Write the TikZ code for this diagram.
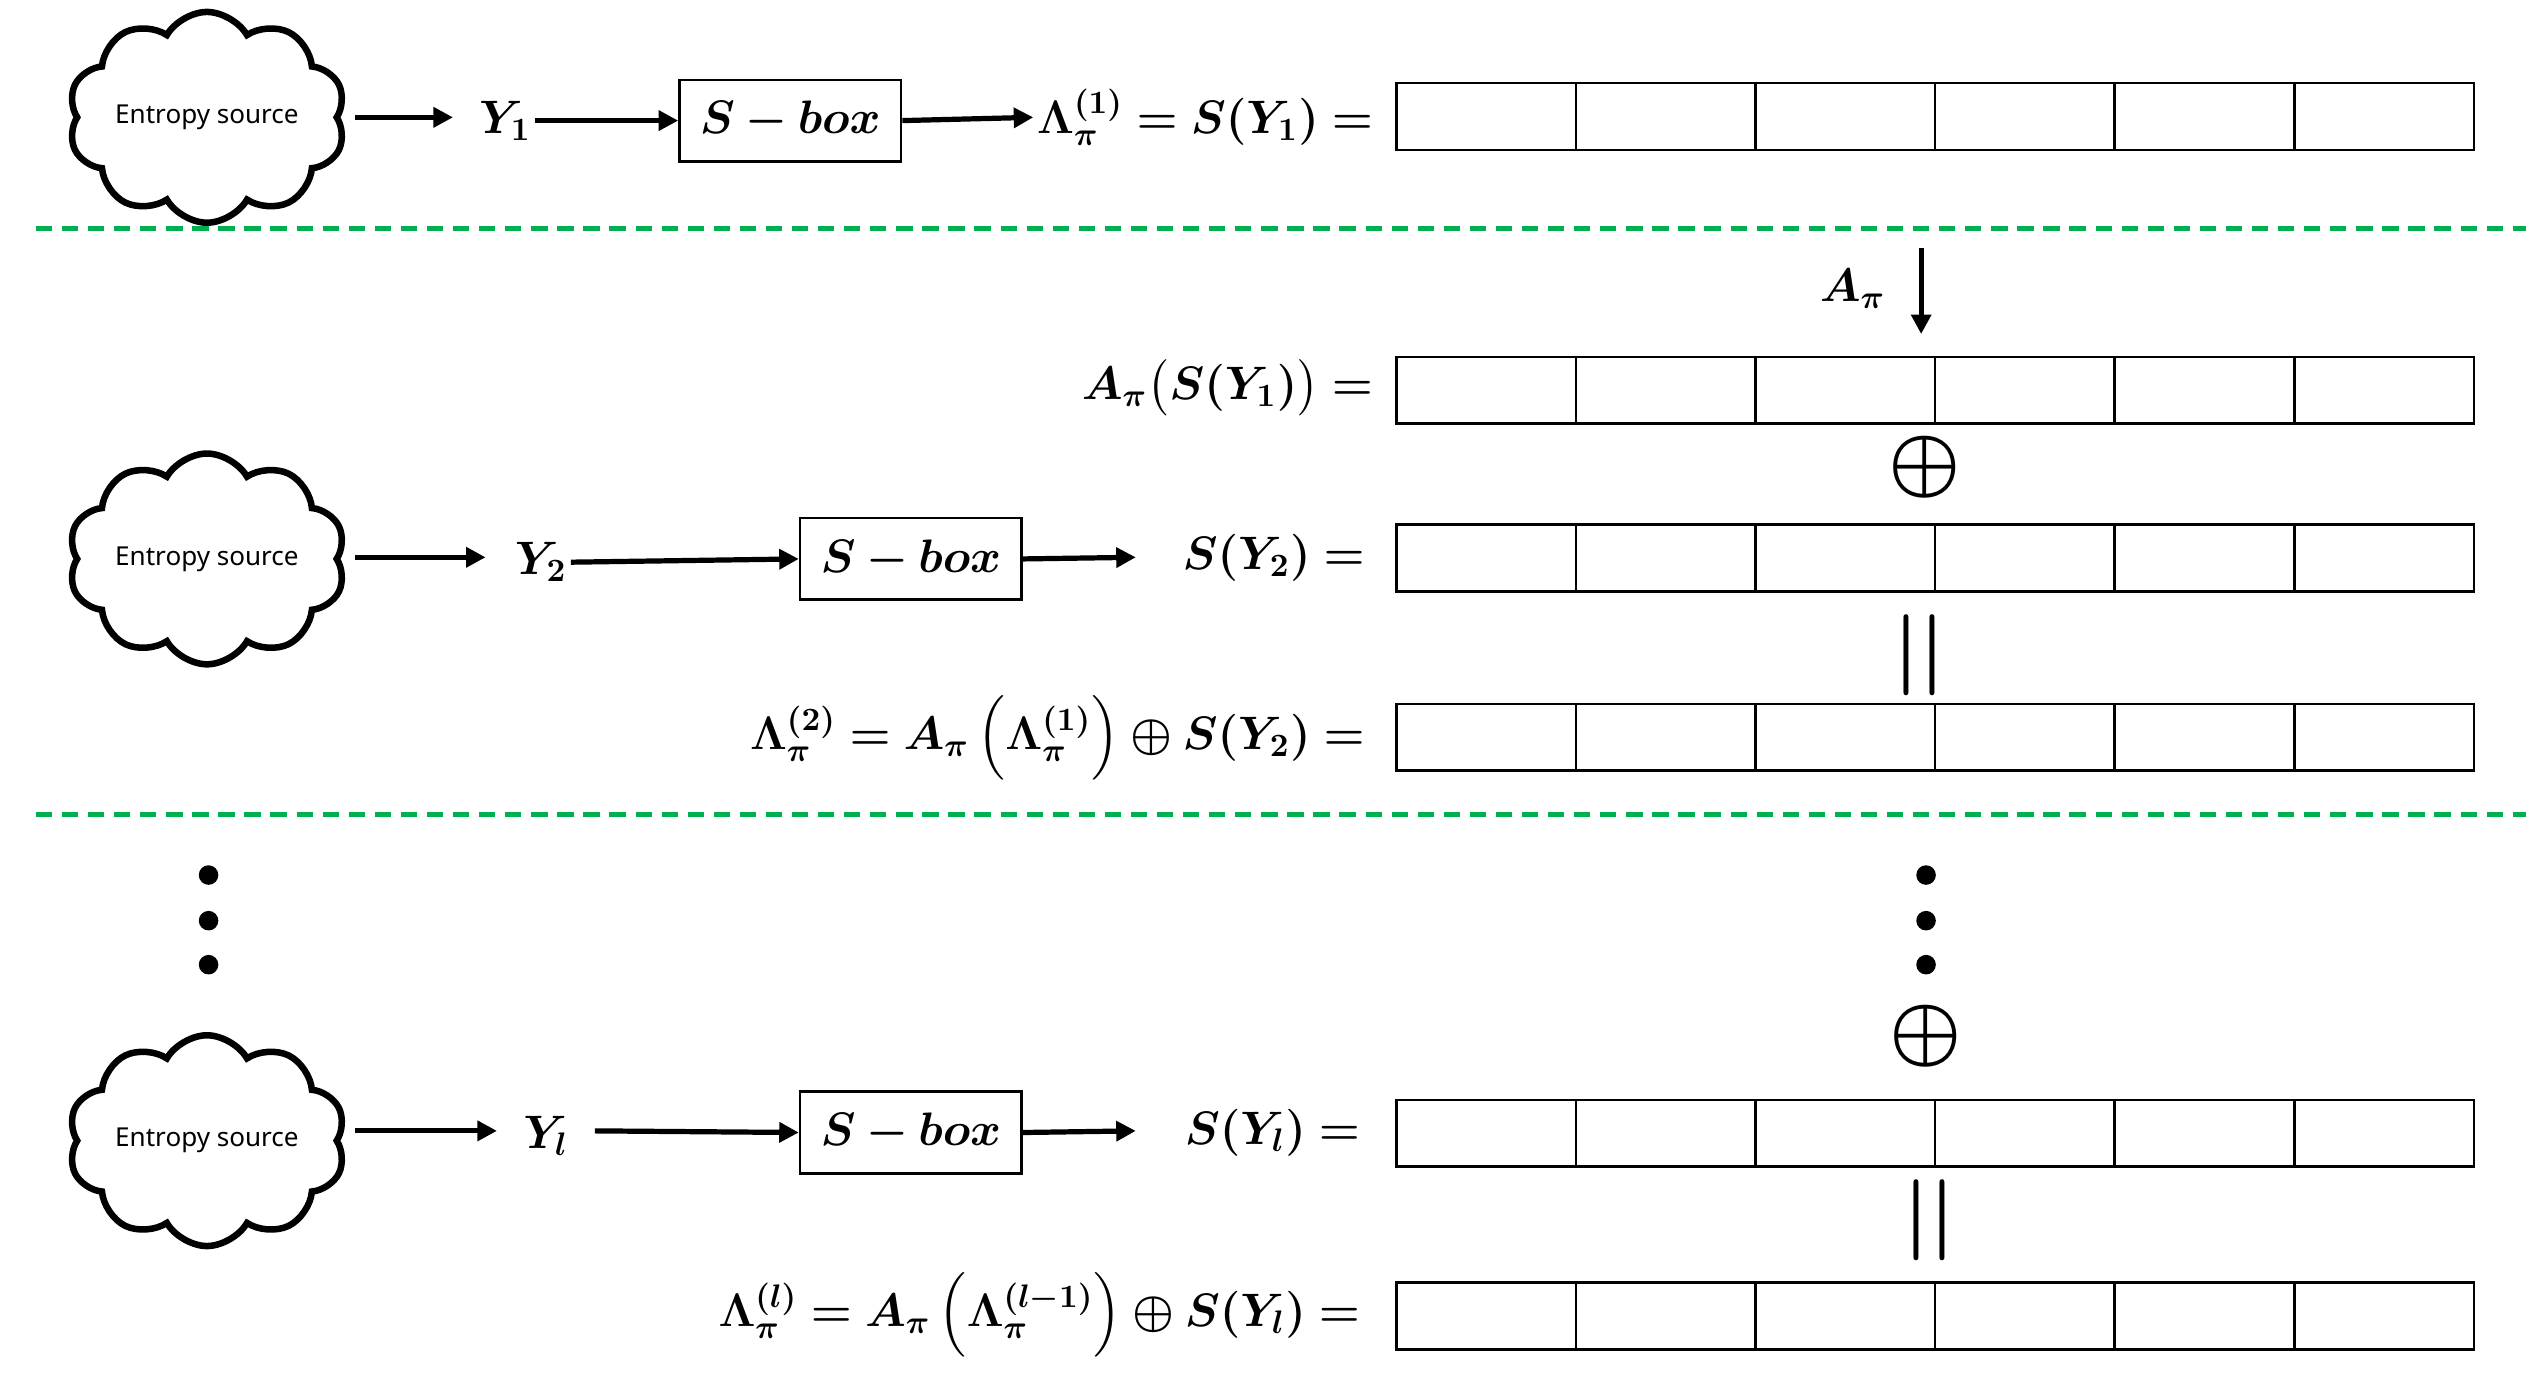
\documentclass[tikz,border=0pt]{standalone}
\usepackage{amsmath,bm}
\usepackage{fontspec}
\newfontfamily\sansf{Noto Sans}
\usetikzlibrary{shapes.symbols,arrows.meta}
\begin{document}
\begin{tikzpicture}[x=0.5pt,y=-0.5pt,
  cl/.style={cloud,draw,line width=2pt,cloud puffs=10,cloud puff arc=120,aspect=1.5,minimum width=62pt,minimum height=42pt,inner sep=0pt,font=\sansf\fontsize{8}{10}\selectfont},
  sb/.style={draw,line width=0.8pt,minimum width=68pt,minimum height=25pt,inner sep=0pt,font=\fontsize{14}{16}\selectfont},
  m/.style={inner sep=1pt,font=\fontsize{14}{16}\selectfont},
  big/.style={inner sep=1pt,font=\fontsize{24}{26}\selectfont},
  ar/.style={line width=1.6pt,-{Triangle[length=6pt,width=6pt]}},
  gd/.style={draw={rgb,255:red,0;green,176;blue,80},line width=1.5pt,dash pattern=on 5pt off 3pt},
  dot/.style={circle,fill,inner sep=0pt,minimum size=6pt}]
\useasboundingbox (0,0) rectangle (1560,853);
\def\cells#1#2{\foreach \i in {0,...,5}{\draw[line width=0.8pt] (857+\i*110.2,#1) rectangle (857+\i*110.2+110.2,#2);}}
% row 1
\node[cl] (c1) at (127,72) {\textbf{Entropy source}};
\node[m] (y1) at (310,74) {$\bm{Y_1}$};
\node[sb] (s1) at (485,74) {$\bm{S-box}$};
\node[m,anchor=east] (l1) at (845,72) {$\bm{\Lambda_\pi^{(1)}=S(Y_1)=}$};
\draw[ar] (218,72) -- (278,72);
\draw[ar] (y1.east) -- (s1.west);
\draw[ar] (s1.east) -- (l1.west);
\cells{51}{92}
\draw[gd] (22,140) -- (1550,140);
% A_pi
\node[m] (ap) at (1137,177) {$\bm{A_\pi}$};
\coordinate (a0) at (1179,152); \coordinate (a1) at (1179,205);
\draw[ar] (a0) -- (a1);
\node[m,anchor=east] (l2) at (845,238) {$\bm{A_\pi\big(S(Y_1)\big)=}$};
\cells{219}{260}
\node[big] (o1) at (1181,287) {$\bm{\oplus}$};
% row 3
\node[cl] (c2) at (127,343) {\textbf{Entropy source}};
\node[m] (y2) at (332,345) {$\bm{Y_2}$};
\node[sb] (s2) at (559,343) {$\bm{S-box}$};
\node[m,anchor=east] (l3) at (840,342) {$\bm{S(Y_2)=}$};
\coordinate (e2) at (697,342);
\draw[ar] (218,342) -- (298,342);
\draw[ar] (y2.east) -- (s2.west);
\draw[ar] (s2.east) -- (e2);
\cells{322}{363}
\node[big] (q1) at (1178,402) {$\bm{||}$};
\node[m,anchor=east] (l4) at (840,453) {$\bm{\Lambda_\pi^{(2)}=A_\pi\left(\Lambda_\pi^{(1)}\right)\oplus S(Y_2)=}$};
\cells{432}{473}
\draw[gd] (22,500) -- (1550,500);
% dots
\foreach \yy in {537,565,592}{\node[dot] at (128,\yy) {}; \node[dot] at (1182,\yy) {};}
\node[big] (o2) at (1182,636) {$\bm{\oplus}$};
% row 5
\node[cl] (c3) at (127,700) {\textbf{Entropy source}};
\node[m] (yl) at (335,697) {$\bm{Y_l}$};
\node[sb] (s3) at (559,695) {$\bm{S-box}$};
\node[m,anchor=east] (l5) at (837,695) {$\bm{S(Y_l)=}$};
\coordinate (e3) at (697,694);
\draw[ar] (218,694) -- (305,694);
\draw[ar] (365,694) -- (s3.west);
\draw[ar] (s3.east) -- (e3);
\cells{675}{716}
\node[big] (q2) at (1184,749) {$\bm{||}$};
\node[m,anchor=east] (l6) at (837,807) {$\bm{\Lambda_\pi^{(l)}=A_\pi\left(\Lambda_\pi^{(l-1)}\right)\oplus S(Y_l)=}$};
\cells{787}{828}
\end{tikzpicture}
\end{document}
